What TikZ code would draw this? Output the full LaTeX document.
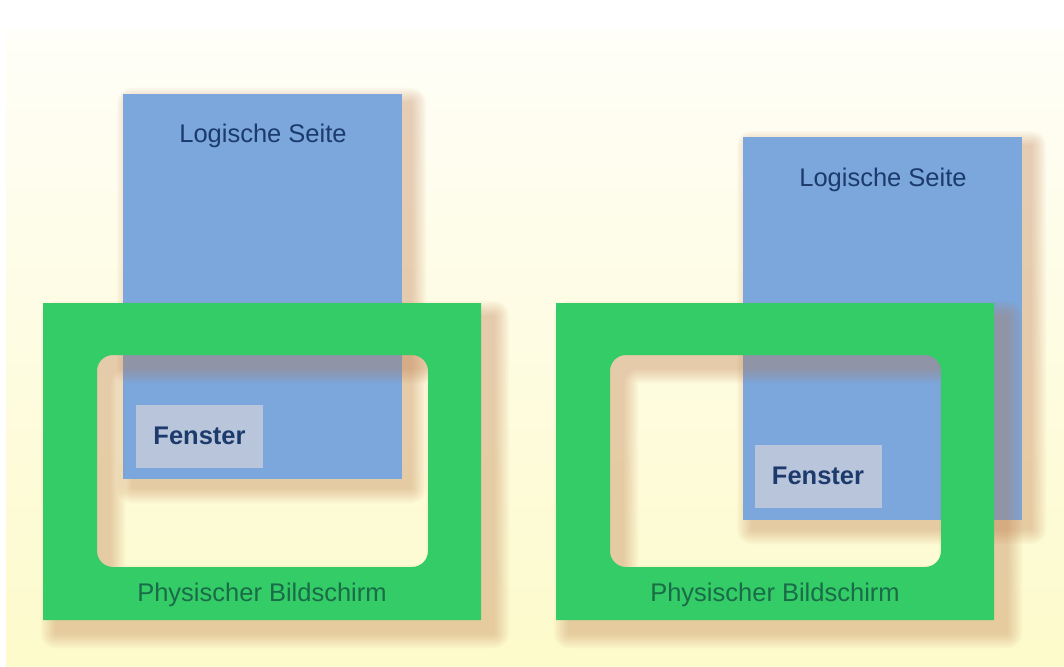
\documentclass[tikz,border=0pt]{standalone}
\usepackage{fontspec}
\setmainfont{Liberation Sans}
\usetikzlibrary{positioning}

\definecolor{pageblue}{HTML}{7BA7DD}
\definecolor{screengreen}{HTML}{33CC66}
\definecolor{windowgray}{HTML}{B9C5DB}
\definecolor{navytext}{HTML}{1C3A6C}
\definecolor{greentext}{HTML}{1A6B48}
\definecolor{shadowtan}{HTML}{C0784A}
\definecolor{bgtop}{HTML}{FFFEF8}
\definecolor{bgbottom}{HTML}{FDFACB}

\tikzset{
  page/.style={fill=pageblue},
  screen/.style={fill=screengreen, even odd rule},
  window/.style={fill=windowgray, inner sep=0pt, minimum width=127pt, minimum height=63pt,
    text=navytext, font=\bfseries\fontsize{25.5}{30}\selectfont},
  pagelabel/.style={text=navytext, font=\fontsize{25.5}{30}\selectfont},
  screenlabel/.style={text=greentext, font=\fontsize{25.5}{30}\selectfont},
}

% soft shadow: the same path, painted several times with a widening edge
\newcommand{\softshadow}[1]{%
  \foreach \w in {30,26,22,18,14,10,6,2}{%
    \begin{scope}[transparency group, opacity=0.05]
      \path[fill=shadowtan, draw=shadowtan, line width=\w pt, line join=round, even odd rule] #1;
    \end{scope}
  }%
}
\newcommand{\screenpath}{(0,0) rectangle (438,317) [rounded corners=16pt] (54,52) rectangle (385,264)}

\begin{document}
\begin{tikzpicture}[x=1pt, y=-1pt]

	\useasboundingbox (0,0) rectangle (1064,666);
	\fill[white] (0,0) rectangle (1064,666);
	\shade[top color=bgtop, bottom color=bgbottom] (6,30) rectangle (1064,666);

	% shadows of the logical pages
	\begin{scope}[shift={(9,9)}]
		\softshadow{(123,94) rectangle (402,479)}
		\softshadow{(743,137) rectangle (1022,520)}
	\end{scope}

	% logical pages
	\fill[page] (123,94) rectangle (402,479);
	\fill[page] (743,137) rectangle (1022,520);

	\node[pagelabel] (seiteL) at (263,136) {Logische Seite};
	\node[pagelabel] (seiteR) at (883,180) {Logische Seite};

	\node[window] (fensterL) at (199.5,436) {Fenster};
	\node[window] (fensterR) at (818,476) {Fenster};

	% shadows of the physical screens
	\begin{scope}[shift={(56,316)}]
		\softshadow{\screenpath}
	\end{scope}
	\begin{scope}[shift={(569,316)}]
		\softshadow{\screenpath}
	\end{scope}

	% physical screens
	\begin{scope}[shift={(43,303)}]
		\fill[screen] \screenpath;
	\end{scope}
	\begin{scope}[shift={(556,303)}]
		\fill[screen] \screenpath;
	\end{scope}

	\node[screenlabel] (schirmL) at (262,595) {Physischer Bildschirm};
	\node[screenlabel] (schirmR) at (775,595) {Physischer Bildschirm};

\end{tikzpicture}
\end{document}
